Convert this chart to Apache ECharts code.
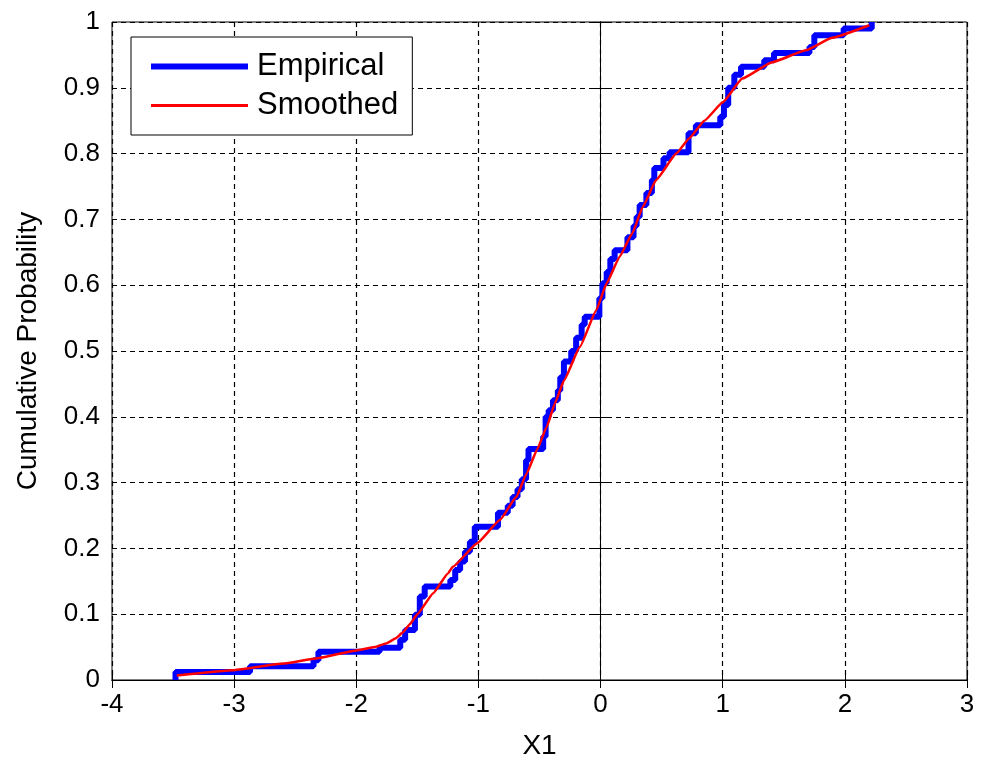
<!DOCTYPE html>
<html>
<head>
<meta charset="utf-8">
<script src="https://cdn.jsdelivr.net/npm/echarts@6/dist/echarts.min.js"></script>
<style>
html,body{margin:0;padding:0;background:#fff;}
#c{width:987px;height:762px;}
</style>
</head>
<body>
<div id="c"></div>
<script>
// Empirical CDF step points (x at jump, level after jump)
const empX = [-3.48,-3.48,-2.87,-2.35,-2.31,-1.81,-1.64,-1.60,-1.52,-1.48,-1.44,-1.23,-1.19,-1.15,-1.11,-1.07,-1.03,-0.84,-0.76,-0.72,-0.68,-0.645,-0.61,-0.59,-0.47,-0.45,-0.425,-0.39,-0.35,-0.33,-0.30,-0.24,-0.20,-0.155,-0.13,-0.01,0.015,0.05,0.08,0.115,0.22,0.27,0.295,0.32,0.375,0.42,0.44,0.515,0.565,0.72,0.78,0.98,1.01,1.045,1.095,1.15,1.34,1.42,1.71,1.75,1.99,2.22];
const empY = [0,0.012,0.021,0.030,0.043,0.049,0.061,0.076,0.099,0.127,0.142,0.152,0.167,0.180,0.195,0.210,0.233,0.254,0.265,0.278,0.290,0.305,0.334,0.351,0.370,0.400,0.410,0.425,0.440,0.460,0.484,0.500,0.520,0.540,0.552,0.580,0.603,0.620,0.640,0.653,0.673,0.690,0.704,0.722,0.740,0.760,0.778,0.793,0.802,0.831,0.843,0.856,0.874,0.900,0.920,0.932,0.942,0.953,0.962,0.980,0.990,1.000];
// Smoothed CDF
const smX = [-3.47,-3.0,-2.6,-2.32,-2.0,-1.85,-1.75,-1.68,-1.62,-1.56,-1.5,-1.37,-1.25,-1.21,-1.01,-0.825,-0.69,-0.605,-0.52,-0.44,-0.375,-0.3,-0.17,-0.035,0.05,0.155,0.26,0.345,0.455,0.62,0.725,0.85,1.0,1.16,1.405,1.68,1.895,2.2];
const smY = [0.007,0.015,0.025,0.033,0.045,0.050,0.056,0.063,0.072,0.085,0.1,0.132,0.162,0.172,0.208,0.243,0.278,0.314,0.35,0.385,0.42,0.455,0.506,0.562,0.603,0.643,0.679,0.719,0.76,0.8,0.823,0.85,0.878,0.914,0.939,0.957,0.976,0.995];

const xTicks = [-4,-3,-2,-1,0,1,2,3];
const yTicks = [0,0.1,0.2,0.3,0.4,0.5,0.6,0.7,0.8,0.9,1];

const FONT = "'Liberation Sans', Arial, sans-serif";
const chart = echarts.init(document.getElementById('c'));
const dashed = {show:true, lineStyle:{color:'#000', type:[5,4], width:1.2}};
const tick = {show:true, inside:true, length:8, lineStyle:{color:'#000'}};
chart.setOption({
  animation:false,
  backgroundColor:'#fff',
  grid:{left:112,right:20,top:22,bottom:82,show:true,borderColor:'#000',borderWidth:1,
        containLabel:false, outerBoundsMode:'none'},
  legend:{
    left:131, top:37,
    orient:'vertical',
    backgroundColor:'#fff', borderColor:'#000', borderWidth:1,
    padding:[14,14,14,17],
    itemWidth:97, itemHeight:20, itemGap:8,
    textStyle:{fontFamily:FONT, fontSize:31, color:'#000', padding:[0,0,0,4]},
    data:[
      {name:'Empirical', lineStyle:{width:6, color:'#0000ff'}, itemStyle:{opacity:0}},
      {name:'Smoothed', lineStyle:{width:3, color:'#ff0000'}, itemStyle:{opacity:0}}
    ]
  },
  xAxis:[{
    type:'value', min:xTicks[0], max:xTicks[xTicks.length-1], interval:1,
    name:'X1', nameLocation:'middle', nameGap:52,
    nameTextStyle:{fontFamily:FONT, fontSize:28, color:'#000'},
    axisLine:{show:true, lineStyle:{color:'#000'}},
    axisTick:tick,
    axisLabel:{fontFamily:FONT, fontSize:26, color:'#000', margin:12},
    splitLine:dashed
  },{
    type:'value', position:'top', min:xTicks[0], max:xTicks[xTicks.length-1], interval:1,
    axisLine:{show:true, lineStyle:{color:'#000'}}, axisTick:tick,
    axisLabel:{show:false}, splitLine:{show:false}
  }],
  yAxis:[{
    type:'value', min:yTicks[0], max:yTicks[yTicks.length-1], interval:0.1,
    name:'Cumulative Probability', nameLocation:'middle', nameGap:70,
    nameTextStyle:{fontFamily:FONT, fontSize:28, color:'#000'},
    axisLine:{show:true, lineStyle:{color:'#000'}},
    axisTick:tick,
    axisLabel:{fontFamily:FONT, fontSize:26, color:'#000', margin:12,
      formatter:v=>String(Math.round(v*10)/10)},
    splitLine:dashed
  },{
    type:'value', position:'right', min:0, max:1, interval:0.1,
    axisLine:{show:true, lineStyle:{color:'#000'}}, axisTick:tick,
    axisLabel:{show:false}, splitLine:{show:false}
  }],
  series:[{
    name:'Empirical', type:'line', step:'end', symbol:'none',
    data: empX.map((x,i)=>[x, empY[i]]),
    lineStyle:{color:'#0000ff', width:6}, itemStyle:{color:'#0000ff'}, z:2
  },{
    name:'Smoothed', type:'line', symbol:'none', smooth:0.12, smoothMonotone:'x',
    data: smX.map((x,i)=>[x, smY[i]]),
    lineStyle:{color:'#ff0000', width:2.5}, itemStyle:{color:'#ff0000'}, z:3
  }]
});
</script>
</body>
</html>
